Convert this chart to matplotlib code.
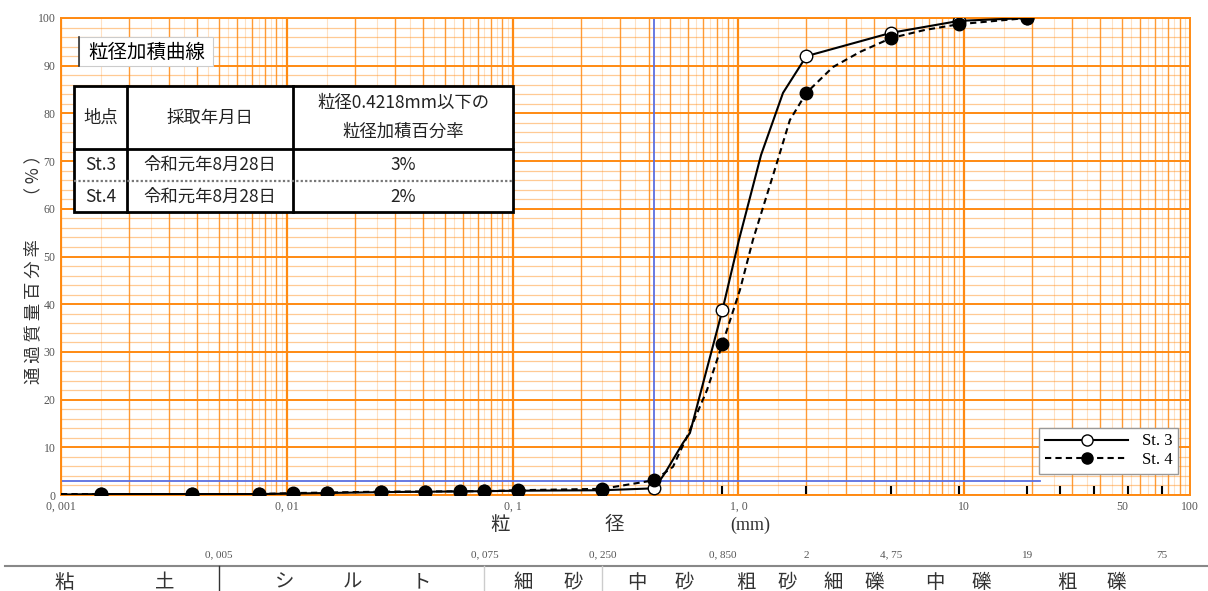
import numpy as np
import matplotlib
matplotlib.use('Agg')
import matplotlib.pyplot as plt
import matplotlib.transforms as mtransforms
from matplotlib.lines import Line2D
from matplotlib.patches import Rectangle

JP = ['Noto Sans CJK JP', 'DejaVu Sans']
SERIF = ['Liberation Serif', 'DejaVu Serif']
ORANGE = '#ff8a12'
BLUE = '#5a6ee0'
GREY = '#555555'

# measured points (diameter mm, passing %)
st3_d = [0.0015, 0.0038, 0.0075, 0.0106, 0.0151, 0.026, 0.041, 0.0585, 0.075, 0.106, 0.25, 0.425, 0.85, 2.0, 4.75, 9.5, 19.0]
st3_p = [0.2, 0.2, 0.2, 0.3, 0.4, 0.6, 0.7, 0.7, 0.8, 0.9, 1.0, 1.4, 38.8, 92.0, 96.9, 99.4, 100.0]
st4_d = [0.0015, 0.0038, 0.0075, 0.0106, 0.0151, 0.026, 0.041, 0.0585, 0.075, 0.106, 0.25, 0.425, 0.85, 2.0, 4.75, 9.5, 19.0]
st4_p = [0.2, 0.2, 0.2, 0.4, 0.4, 0.7, 0.7, 0.8, 0.8, 1.0, 1.3, 3.1, 31.7, 84.3, 95.8, 98.7, 100.0]

# curve vertices as drawn on the chart
st3_curve_d = [0.001, 0.0015, 0.0075, 0.0106, 0.026, 0.075, 0.106, 0.25, 0.425, 0.473, 0.568, 0.610, 0.85, 1.006, 1.26, 1.576, 2.0, 4.75, 9.5, 19.0]
st3_curve_p = [0.1, 0.2, 0.2, 0.3, 0.6, 0.8, 0.9, 1.0, 1.4, 4.6, 10.9, 13.0, 38.8, 53.5, 71.3, 84.3, 92.0, 96.9, 99.4, 100.0]
st4_curve_d = [0.001, 0.0015, 0.0075, 0.0106, 0.026, 0.075, 0.106, 0.25, 0.425, 0.513, 0.592, 0.726, 0.85, 1.016, 1.16, 1.48, 1.69, 2.0, 2.62, 3.46, 4.75, 6.7, 9.5, 19.0]
st4_curve_p = [0.2, 0.2, 0.2, 0.4, 0.7, 0.8, 1.0, 1.3, 3.1, 5.9, 12.2, 22.0, 31.7, 43.0, 53.5, 69.6, 78.6, 84.3, 89.7, 92.9, 95.8, 97.5, 98.7, 100.0]

ref_d = 0.4218
ref_p = 3
sieve_ticks = [0.85, 2, 4.75, 9.5, 19, 26.5, 37.5, 53, 75]

xtick_vals = [0.001, 0.01, 0.1, 1, 10, 50, 100]
xtick_labels = ['0, 001', '0, 01', '0, 1', '1, 0', '10', '50', '100']

bound_vals = [0.005, 0.075, 0.25, 0.85, 2, 4.75, 19, 75]
bound_labels = ['0, 005', '0, 075', '0, 250', '0, 850', '2', '4, 75', '19', '75']

soil_names = ['粘', '土', 'シ', 'ル', 'ト', '細', '砂', '中', '砂', '粗', '砂', '細', '礫', '中', '礫', '粗', '礫']
soil_x = [64, 165, 285, 352, 421, 523, 573, 637, 684, 746, 787, 833, 874, 935, 981, 1067, 1116]

table_header = ['地点', '採取年月日', '粒径0.4218mm以下の\n粒径加積百分率']
table_rows = [['St.3', '令和元年8月28日', '3%'],
              ['St.4', '令和元年8月28日', '2%']]

W, H = 1208, 591


def fx(x):
    return x / W


def fy(y):
    return 1 - y / H


fig = plt.figure(figsize=(W / 100, H / 100), dpi=100)
ax = fig.add_axes([fx(61), fy(495), fx(1190) - fx(61), fy(18) - fy(495)])
ax.set_xscale('log')
ax.set_xlim(0.001, 100)
ax.set_ylim(0, 100)

# grid
for dec in [0.001, 0.01, 0.1, 1, 10]:
    for m in np.arange(1.5, 10, 1.0):
        ax.axvline(dec * m, color=ORANGE, lw=0.8, alpha=0.25, zorder=0)
    for m in range(2, 10):
        ax.axvline(dec * m, color=ORANGE, lw=1.0, alpha=0.85, zorder=0)
    ax.axvline(dec, color=ORANGE, lw=1.6, zorder=0)
for v in range(0, 101, 2):
    if v % 10 == 0:
        ax.axhline(v, color=ORANGE, lw=1.4, zorder=0)
    else:
        ax.axhline(v, color=ORANGE, lw=0.9, alpha=0.45, zorder=0)
for s in ax.spines.values():
    s.set_color(ORANGE)
    s.set_linewidth(1.4)

# reference lines
ax.axhline(ref_p, xmax=0.867, color=BLUE, lw=1.3, zorder=1)
ax.axvline(ref_d, color=BLUE, lw=1.3, zorder=1)
ax.vlines(sieve_ticks, 0, 1.8, color='black', lw=1.5, zorder=2)

# curves
ax.plot(st3_curve_d, st3_curve_p, color='black', lw=1.5, zorder=3)
ax.plot(st4_curve_d, st4_curve_p, color='black', lw=1.5, ls=(0, (3, 2)), zorder=3)
ax.plot(st3_d, st3_p, ls='none', marker='o', ms=9, mfc='white', mec='black', mew=1.0, zorder=4)
ax.plot(st4_d, st4_p, ls='none', marker='o', ms=9, mfc='black', mec='black', zorder=5)

ax.set_xticks(xtick_vals)
ax.set_xticklabels(xtick_labels)
ax.set_xticks([], minor=True)
ax.set_yticks(range(0, 101, 10))
ax.tick_params(length=0, pad=4, labelsize=8.5, labelcolor=GREY)
for lab in ax.get_xticklabels() + ax.get_yticklabels():
    lab.set_family(SERIF)

handles = [Line2D([], [], color='black', lw=1.5, marker='o', ms=8, mfc='white', mec='black'),
           Line2D([], [], color='black', lw=1.5, ls=(0, (3, 2)), marker='o', ms=8, mfc='black', mec='black')]
leg = ax.legend(handles, ['St. 3', 'St. 4'], loc='lower right', bbox_to_anchor=(0.997, 0.027),
                prop={'family': SERIF, 'size': 12}, handlelength=5, fancybox=False,
                framealpha=1, edgecolor='#999999', borderpad=0.35, labelspacing=0.15)
leg.get_frame().set_linewidth(1.0)
leg.set_zorder(10)

# title box
fig.patches.append(Rectangle((fx(79), fy(66)), fx(213) - fx(79), fy(37) - fy(66), transform=fig.transFigure,
                             facecolor='white', edgecolor='#cccccc', lw=0.8, zorder=5))
fig.lines.append(Line2D([fx(79), fx(79)], [fy(37), fy(66)], transform=fig.transFigure, color='#333333', lw=1.2, zorder=6))
fig.text(fx(88), fy(52), '粒径加積曲線', family=JP, fontsize=14, va='center', ha='left', zorder=7)

# table
tx = [74, 127, 293, 513]
ty = [86, 149, 181, 212]
fig.patches.append(Rectangle((fx(tx[0]), fy(ty[-1])), fx(tx[-1]) - fx(tx[0]), fy(ty[0]) - fy(ty[-1]),
                             transform=fig.transFigure, facecolor='white', edgecolor='black', lw=2, zorder=5))
for x in tx[1:-1]:
    fig.lines.append(Line2D([fx(x), fx(x)], [fy(ty[0]), fy(ty[-1])], transform=fig.transFigure, color='black', lw=2, zorder=6))
fig.lines.append(Line2D([fx(tx[0]), fx(tx[-1])], [fy(ty[1]), fy(ty[1])], transform=fig.transFigure, color='black', lw=2, zorder=6))
fig.lines.append(Line2D([fx(tx[0]), fx(tx[-1])], [fy(ty[2]), fy(ty[2])], transform=fig.transFigure, color='#777777', lw=1.6, ls=(0, (1, 1)), zorder=6))
for j, txt in enumerate(table_header):
    fig.text(fx((tx[j] + tx[j + 1]) / 2), fy((ty[0] + ty[1]) / 2), txt, family=JP, fontsize=12.5,
             ha='center', va='center', linespacing=1.75, zorder=7, color='#222222')
for i, row in enumerate(table_rows):
    for j, txt in enumerate(row):
        fig.text(fx((tx[j] + tx[j + 1]) / 2), fy((ty[i + 1] + ty[i + 2]) / 2), txt, family=JP, fontsize=12.5,
                 ha='center', va='center', zorder=7, color='#222222')

# axis labels
fig.text(fx(33), fy(265), '通 過 質 量 百 分 率　　（ % ）', family=JP, fontsize=12.5, rotation=90,
         ha='center', va='center', color='#333333')
fig.text(fx(500), fy(525), '粒', family=JP, fontsize=14, ha='center', va='center', color='#333333')
fig.text(fx(614), fy(525), '径', family=JP, fontsize=14, ha='center', va='center', color='#333333')
fig.text(fx(750), fy(525), '(mm)', family=SERIF, fontsize=13, ha='center', va='center', color='#333333')

# soil classification strip
trans = mtransforms.blended_transform_factory(ax.transData, fig.transFigure)
for v, lab in zip(bound_vals, bound_labels):
    fig.text(v, fy(555), lab, transform=trans, family=SERIF, fontsize=8, color=GREY, ha='center', va='center')
fig.lines.append(Line2D([fx(5), 1], [fy(566), fy(566)], transform=fig.transFigure, color='#888888', lw=1.5))
fig.lines.append(Line2D([0.005, 0.005], [fy(566), 0], transform=trans, color='#333333', lw=1.0))
fig.lines.append(Line2D([0.075, 0.075], [fy(566), 0], transform=trans, color='#cccccc', lw=1.0))
fig.lines.append(Line2D([0.25, 0.25], [fy(566), 0], transform=trans, color='#cccccc', lw=1.0))
for x, name in zip(soil_x, soil_names):
    fig.text(fx(x), fy(582), name, family=JP, fontsize=14, ha='center', va='center', color='#333333')

fig.savefig('out.png', dpi=100)
